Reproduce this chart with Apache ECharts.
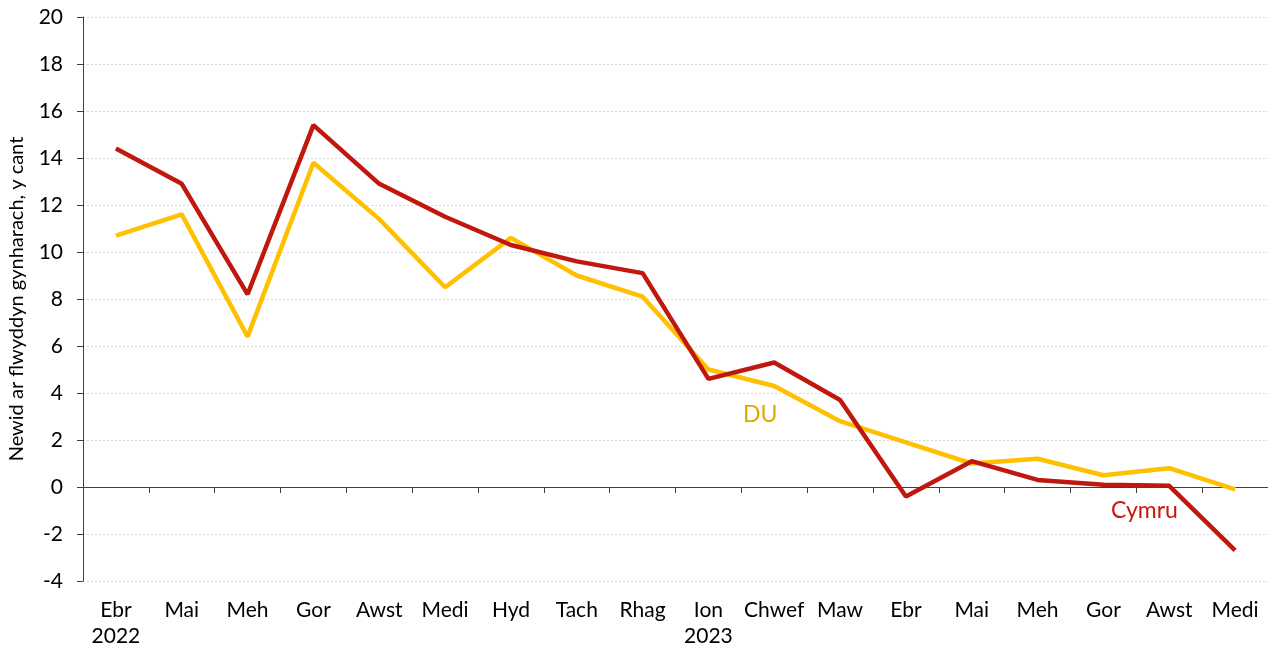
<!DOCTYPE html>
<html>
<head>
<meta charset="utf-8">
<script src="https://cdn.jsdelivr.net/npm/echarts@6/dist/echarts.min.js"></script>
<style>
  html, body { margin: 0; padding: 0; background: #fff; }
  #chart { width: 1268px; height: 646px; }
</style>
</head>
<body>
<div id="chart"></div>
<script>
// misoedd Ebrill 2022 - Medi 2023
const categories = ['Ebr\n2022', 'Mai', 'Meh', 'Gor', 'Awst', 'Medi', 'Hyd', 'Tach', 'Rhag',
  'Ion\n2023', 'Chwef', 'Maw', 'Ebr', 'Mai', 'Meh', 'Gor', 'Awst', 'Medi']
const cymru = [14.4, 12.9, 8.2, 15.4, 12.9, 11.5, 10.3, 9.6, 9.1, 4.6, 5.3, 3.7, -0.4, 1.1, 0.3, 0.1, 0.05, -2.7]
const du = [10.7, 11.6, 6.4, 13.8, 11.4, 8.5, 10.6, 9.0, 8.1, 5.0, 4.3, 2.8, 1.9, 1.0, 1.2, 0.5, 0.8, -0.1]
const yTicks = { min: -4, max: 20, interval: 2 }

const fontFamily = 'Lato, "Noto Sans", sans-serif'
const axisColor = '#404040'

let myChart = echarts.init(document.getElementById('chart'))
let option = {
    animation: false,
    grid: { left: 83, right: 0, top: 17, bottom: 65, outerBoundsMode: 'none', containLabel: false },
    textStyle: { fontFamily: fontFamily },
    xAxis: [{
        type: 'category',
        data: categories,
        position: 'bottom',
        axisLine: { show: false, onZero: false },
        axisTick: { show: false },
        axisLabel: { color: '#000', fontSize: 21, fontFamily: fontFamily, margin: 16, lineHeight: 26, interval: 0 }
    }, {
        type: 'category',
        data: categories,
        position: 'bottom',
        axisLine: { show: true, onZero: true, lineStyle: { color: axisColor, width: 1 } },
        axisTick: { show: true, length: 6, lineStyle: { color: axisColor } },
        axisLabel: { show: false }
    }],
    yAxis: {
        type: 'value',
        min: yTicks.min,
        max: yTicks.max,
        interval: yTicks.interval,
        name: 'Newid ar flwyddyn gynharach, y cant',
        nameLocation: 'middle',
        nameGap: 56,
        nameTextStyle: { color: '#000', fontSize: 20, fontFamily: fontFamily },
        axisLine: { show: true, lineStyle: { color: axisColor } },
        axisTick: { show: true, length: 6, lineStyle: { color: axisColor } },
        axisLabel: { color: '#000', fontSize: 21, fontFamily: fontFamily, margin: 20 },
        splitLine: { show: true, lineStyle: { color: '#d9d9d9', type: [2, 2], width: 1 } }
    },
    series: [{
        name: 'DU',
        type: 'line',
        data: du,
        symbol: 'none',
        lineStyle: { color: '#FFC000', width: 4.5 },
        z: 2
    }, {
        name: 'Cymru',
        type: 'line',
        data: cymru,
        symbol: 'none',
        lineStyle: { color: '#C0180E', width: 4.5 },
        z: 3
    }],
    graphic: [{
        type: 'text',
        left: 743, top: 403,
        style: { text: 'DU', fill: '#E0A800', font: '23px ' + fontFamily }
    }, {
        type: 'text',
        left: 1111, top: 499,
        style: { text: 'Cymru', fill: '#C8170F', font: '23px ' + fontFamily }
    }]
}
myChart.setOption(option)
window.addEventListener('resize', function() {
    myChart.resize()
})
</script>
</body>
</html>
